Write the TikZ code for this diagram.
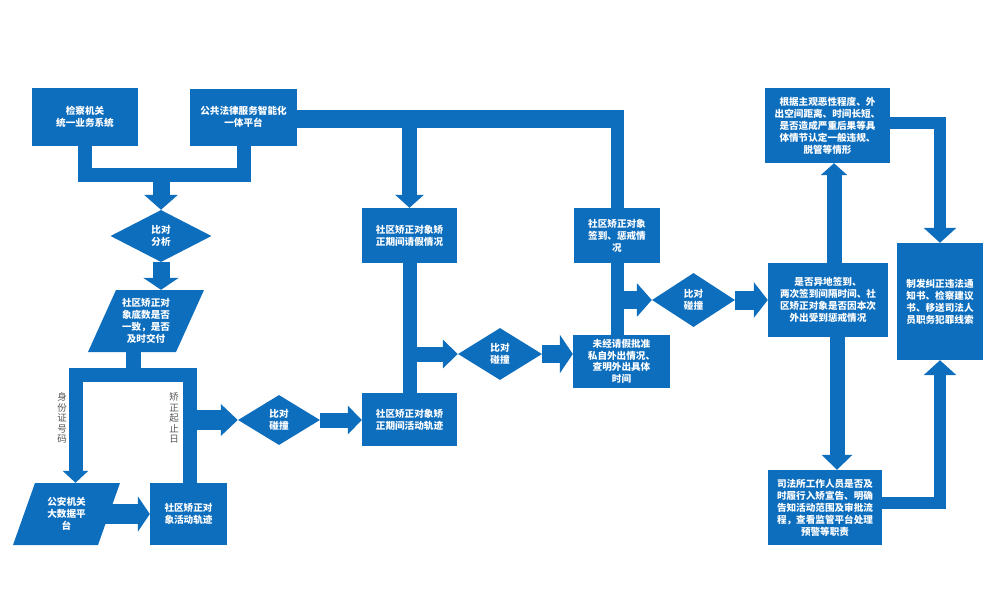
\documentclass[tikz,border=0pt]{standalone}
\usepackage{fontspec}
\setmainfont{Noto Sans CJK SC}
\usetikzlibrary{arrows.meta,shapes.geometric}
\definecolor{bl}{RGB}{14,110,190}
\definecolor{lbl}{RGB}{85,85,85}
\begin{document}
\begin{tikzpicture}[x=1pt,y=-1pt,
  txt/.style={text=white, font=\bfseries\fontsize{9.6}{12}\selectfont, align=center, inner sep=0pt},
  box/.style={txt, fill=bl},
  dia/.style={txt, diamond, fill=bl},
  lab/.style={text=lbl, font=\fontsize{9.5}{10.5}\selectfont, align=center, inner sep=0pt},
  bar/.style={draw=bl, line width=#1, line join=miter},
  blk/.style n args={3}{draw=bl, line width=#1, line join=miter, -{Triangle[width=#2,length=#3]}}
]
\useasboundingbox (0,0) rectangle (1000,608);
\fill[white] (0,0) rectangle (1000,608);
% parallelograms
\fill[bl] (116,290) -- (204,290) -- (176,352) -- (88,352) -- cycle;
\fill[bl] (35,483) -- (120,483) -- (98,545) -- (13,545) -- cycle;
% nodes
\node[box, minimum width=106pt, minimum height=58pt] (A) at (85,117) {检察机关\\统一业务系统};
\node[box, minimum width=107pt, minimum height=57pt] (B) at (243.5,117) {公共法律服务智能化\\一体平台};
\node[dia, minimum width=101pt, minimum height=52pt] (D1) at (161,236) {比对\\分析};
\node[txt, minimum width=88pt, minimum height=62pt] (P1) at (146,321) {社区矫正对\\象底数是否\\一致，是否\\及时交付};
\node[txt, minimum width=85pt, minimum height=62pt] (P2) at (66.5,514) {公安机关\\大数据平\\台};
\node[box, minimum width=77pt, minimum height=62pt] (T1) at (188.5,514) {社区矫正对\\象活动轨迹};
\node[dia, minimum width=82pt, minimum height=50pt] (D4) at (279,420) {比对\\碰撞};
\node[box, minimum width=95pt, minimum height=55pt] (Leave) at (409.5,235.5) {社区矫正对象矫\\正期间请假情况};
\node[box, minimum width=95pt, minimum height=53pt] (T2) at (409.5,419.5) {社区矫正对象矫\\正期间活动轨迹};
\node[dia, minimum width=84pt, minimum height=52pt] (D2) at (500,354) {比对\\碰撞};
\node[box, minimum width=86pt, minimum height=55pt] (Sign) at (617,235.5) {社区矫正对象\\签到、惩戒情\\况};
\node[box, minimum width=97pt, minimum height=53pt, font=\bfseries\fontsize{9.6}{11.5}\selectfont] (Out) at (621.5,361.5) {未经请假批准\\私自外出情况、\\查明外出具体\\时间};
\node[dia, minimum width=83pt, minimum height=54pt] (D3) at (693.5,300) {比对\\碰撞};
\node[box, minimum width=120pt, minimum height=74pt] (Q) at (828,300) {是否异地签到、\\两次签到间隔时间、社\\区矫正对象是否因本次\\外出受到惩戒情况};
\node[box, minimum width=125pt, minimum height=75pt] (R1) at (827.5,125.5) {根据主观恶性程度、外\\出空间距离、时间长短、\\是否造成严重后果等具\\体情节认定一般违规、\\脱管等情形};
\node[box, minimum width=86pt, minimum height=117pt] (Final) at (940,301.5) {制发纠正违法通\\知书、检察建议\\书、移送司法人\\员职务犯罪线索};
\node[box, minimum width=114pt, minimum height=75pt] (J) at (825,507.5) {司法所工作人员是否及\\时履行入矫宣告、明确\\告知活动范围及审批流\\程，查看监管平台处理\\预警等职责};
\node[lab] (L1) at (62,418) {身\\份\\证\\号\\码};
\node[lab] (L2) at (174,418) {矫\\正\\起\\止\\日};
% junction coordinates
\coordinate (jAB) at (161,175);
\coordinate (jTop) at (617,119);
\coordinate (jL) at (133.5,375);
% connectors: top left
\draw[bar=14pt] (A.south) -- (A.south |- jAB) -- (B.south |- jAB) -- (B.south);
\draw[blk={17pt}{33pt}{15pt}] (jAB) -- (D1.north);
\draw[blk={17pt}{35pt}{12pt}] (D1.south) -- (D1.south |- P1.north);
% top bar
\draw[bar=18pt] (B.east |- jTop) -- ([xshift=6.5pt]jTop);
\draw[bar=13pt] ([yshift=9pt]jTop) -- (Sign.north);
\draw[blk={15pt}{28pt}{13pt}] (Leave.north |- jTop) -- (Leave.north);
% middle
\draw[bar=14pt] (Leave.south) -- (T2.north);
\draw[blk={15pt}{28pt}{15pt}] (Leave.south |- D2.west) -- (D2.west);
\draw[blk={18pt}{38pt}{13pt}] (D2.east) -- (D2.east -| Out.west);
\draw[bar=13pt] (Sign.south) -- (Sign.south |- Out.north);
\draw[blk={18pt}{33pt}{15pt}] (Sign.south |- D3.west) -- (D3.west);
\draw[blk={19pt}{35pt}{14pt}] (D3.east) -- (D3.east -| Q.west);
% right
\draw[blk={15pt}{26pt}{12pt}] ([xshift=6pt]Q.north) -- ([xshift=6pt]Q.north |- R1.south);
\draw[blk={12pt}{32pt}{15pt}] ([yshift=3pt]R1.east) -- ([yshift=3pt]R1.east -| Final.north) -- (Final.north);
\draw[blk={15pt}{30pt}{15pt}] ([xshift=9pt]Q.south) -- ([xshift=9pt]Q.south |- J.north);
\draw[blk={12pt}{32pt}{15pt}] ([yshift=5pt]J.east) -- ([yshift=5pt]J.east -| Final.south) -- (Final.south);
% bottom left
\draw[bar=15pt] ([xshift=-12.5pt]P1.south) -- ([xshift=-12.5pt]P1.south |- jL);
\draw[blk={14pt}{25pt}{12pt}] ([xshift=1.5pt]T1.north) -- ([xshift=1.5pt]T1.north |- jL) -- ([xshift=9pt]P2.north |- jL) -- ([xshift=9pt]P2.north);
\draw[blk={20pt}{31pt}{17pt}] ([xshift=1.5pt]T1.north |- D4.west) -- (D4.west);
\draw[blk={15pt}{28pt}{14pt}] (D4.east) -- (D4.east -| T2.west);
\draw[blk={20pt}{35pt}{12pt}] ([xshift=38pt]P2.center) -- (T1.west);
\end{tikzpicture}
\end{document}
